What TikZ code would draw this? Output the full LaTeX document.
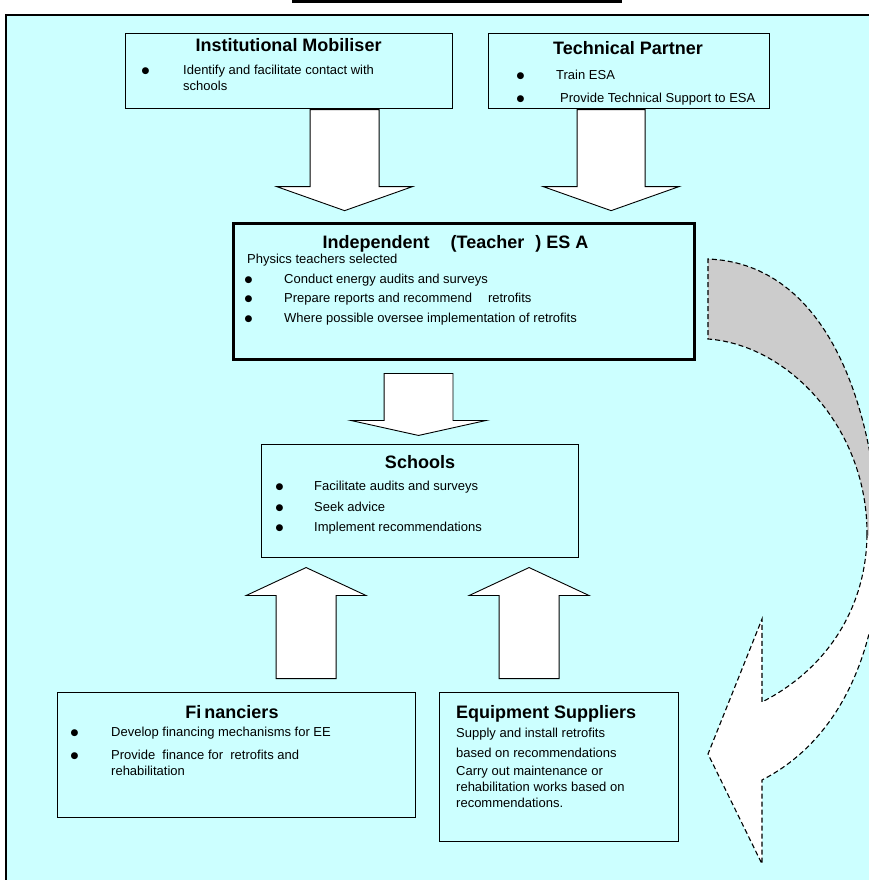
\documentclass[tikz,border=0pt]{standalone}
\usepackage{fontspec}
\setmainfont{Liberation Sans}
\newfontfamily\dotfont{DejaVu Sans}
\usetikzlibrary{shapes.arrows}
\definecolor{panelcyan}{HTML}{CCFFFF}
\definecolor{bandgrey}{HTML}{CCCCCC}
\newcommand{\bul}[1][36pt]{\makebox[#1][l]{\hspace*{-2.5pt}\raisebox{1pt}{\dotfont\fontsize{9}{10}\selectfont ●}}}

\begin{document}
\begin{tikzpicture}[x=1pt,y=-1pt]
\tikzset{box/.style={draw,line width=1.2pt,fill=panelcyan,inner sep=0pt,anchor=north west}}
\tikzset{boxtitle/.style={font=\fontsize{18}{21}\selectfont\bfseries,inner sep=0pt,anchor=base}}
\tikzset{boxtext/.style={font=\fontsize{13}{15.5}\selectfont,align=left,inner sep=0pt,anchor=north west}}
\tikzset{blockarrow/.style={single arrow,draw,fill=white,line width=0.9pt,inner xsep=0pt,anchor=tail}}
\tikzset{bandline/.style={dash pattern=on 5pt off 3pt,line width=1.1pt}}
\useasboundingbox (0,0) rectangle (869,880);
\clip (0,0) rectangle (869,880);
% panel
\fill[panelcyan] (5,15) rectangle (880,890);
\draw[line width=2pt] (6,890) -- (6,15) -- (880,15);
\draw[line width=3pt] (292,1.5) -- (622,1.5);
% curved arrow
\fill[white] (880,540) .. controls (880,650) and (840,740) .. (762,780) -- (762,864) -- (708,754) -- (762,619) -- (762,702) .. controls (825,670) and (866,610) .. (867,535) -- cycle;
\draw[bandline] (867,535) .. controls (866,610) and (825,670) .. (762,702) -- (762,619) -- (708,754) -- (762,864) -- (762,780) .. controls (840,740) and (880,650) .. (880,540);
\fill[bandgrey] (708,259) .. controls (815,263) and (872,380) .. (880,540) -- (867,535) .. controls (868,430) and (790,345) .. (708,339) -- cycle;
\draw[bandline] (867,535) .. controls (868,430) and (790,345) .. (708,339) -- (708,259) .. controls (815,263) and (872,380) .. (880,540);
% boxes
\node[box,minimum width=327pt,minimum height=75pt] (inst) at (125,33) {};
\node[boxtitle] (insttitle) at (288.5,51.5) {Institutional Mobiliser};
\node[boxtext] (instlist) at (144,65) {\bul[39pt]Identify and facilitate contact with\\\hspace*{39pt}schools};

\node[box,minimum width=281pt,minimum height=75pt] (tech) at (488,33) {};
\node[boxtitle] (techtitle) at (628,54.5) {Technical Partner};
\node[boxtext] (techlist) at (519,70) {\bul[37pt]Train ESA\\[7pt]\bul[41pt]Provide Technical Support to ESA};

\node[box,line width=3pt,minimum width=461pt,minimum height=136pt] (esa) at (232,222) {};
\node[boxtitle] (esatitle) at (455.5,248.5) {Independent\hspace{21pt}(Teacher\hspace{11pt}) ES A};
\node[boxtext] (esalist) at (247,254) {Physics teachers selected\\[4.5pt]\bul[37pt]Conduct energy audits and surveys\\[3.5pt]\bul[37pt]Prepare reports and recommend\hspace{16pt}retrofits\\[4.5pt]\bul[37pt]Where possible oversee implementation of retrofits};

\node[box,minimum width=317pt,minimum height=113pt] (schools) at (261,444) {};
\node[boxtitle] (schoolstitle) at (420,468.5) {Schools};
\node[boxtext] (schoolslist) at (278,481) {\bul[36pt]Facilitate audits and surveys\\[5pt]\bul[36pt]Seek advice\\[5pt]\bul[36pt]Implement recommendations};

\node[box,minimum width=358pt,minimum height=125pt] (fin) at (57,692) {};
\node[boxtitle] (fintitle) at (232,718.5) {Fi\,nanciers};
\node[boxtext] (finlist) at (73,727) {\bul[38pt]Develop financing mechanisms for EE\\[7.5pt]\bul[38pt]Provide\ \ finance for\ \ retrofits and\\\hspace*{38pt}rehabilitation};

\node[box,minimum width=239pt,minimum height=149pt] (suppliers) at (439,692) {};
\node[boxtitle,anchor=base west] (supplierstitle) at (456,718.5) {Equipment Suppliers};
\node[boxtext] (supplierslist) at (456,728) {Supply and install retrofits\\[4.5pt]based on recommendations\\[2.5pt]Carry out maintenance or\\rehabilitation works based on\\[0.5pt]recommendations.};
% block arrows
\node[blockarrow,rotate=-90,minimum height=101pt,inner ysep=34pt,single arrow head extend=33.5pt,single arrow tip angle=141] (insttoesa) at ([xshift=55.5pt]inst.south) {};
\node[blockarrow,rotate=-90,minimum height=101pt,inner ysep=33.5pt,single arrow head extend=34pt,single arrow tip angle=141] (techtoesa) at ([xshift=-18pt]tech.south) {};
\node[blockarrow,rotate=-90,minimum height=62pt,inner ysep=34pt,single arrow head extend=33pt,single arrow tip angle=155] (esatoschools) at ([xshift=-45.5pt,yshift=-12pt]esa.south) {};
\node[blockarrow,rotate=90,minimum height=111pt,inner ysep=29.5pt,single arrow head extend=30pt,single arrow tip angle=130] (fintoschools) at ([xshift=69.5pt,yshift=13pt]fin.north) {};
\node[blockarrow,rotate=90,minimum height=111pt,inner ysep=29.5pt,single arrow head extend=30pt,single arrow tip angle=130] (supplierstoschools) at ([xshift=-30pt,yshift=13pt]suppliers.north) {};
\end{tikzpicture}
\end{document}
